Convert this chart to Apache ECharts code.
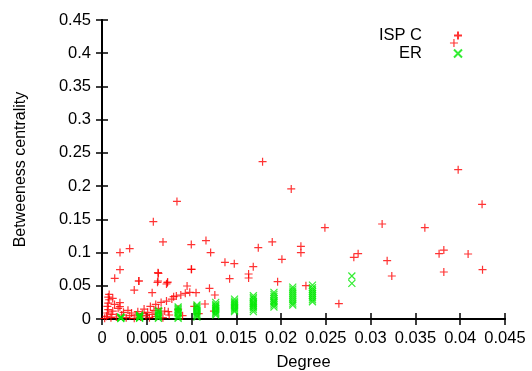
<!DOCTYPE html>
<html>
<head>
<meta charset="utf-8">
<script src="https://cdn.jsdelivr.net/npm/echarts@6/dist/echarts.min.js"></script>
<style>
  html, body { margin: 0; padding: 0; background: #fff; }
  #chart { width: 532px; height: 371px; }
</style>
</head>
<body>
<div id="chart"></div>
<script>
// Axis settings
const xTickStep = 0.005, xMax = 0.045;
const yTickStep = 0.05, yMax = 0.45;
const seriesNames = ['ISP C', 'ER'];

// ISP C: [degree, betweenness centrality]
const ispPoints = [
  [0.0003,0.001],[0.0005,0.004],[0.0006,0.009],[0.0007,0.014],[0.0006,0.019],[0.0007,0.024],
  [0.0008,0.029],[0.0007,0.033],[0.0008,0.037],[0.0010,0.002],[0.0011,0.007],[0.0012,0.012],
  [0.0012,0.031],[0.0014,0.022],[0.0016,0.003],[0.0018,0.016],[0.0020,0.0245],[0.0020,0.0185],
  [0.0022,0.006],[0.0024,0.010],[0.0027,0.002],[0.0029,0.013],[0.0031,0.005],[0.0033,0.009],
  [0.0036,0.0436],[0.0036,0.001],[0.0038,0.006],[0.0040,0.011],[0.0041,0.0572],[0.0043,0.003],
  [0.0045,0.008],[0.0047,0.015],[0.0049,0.005],[0.0051,0.010],[0.0053,0.002],[0.0054,0.019],
  [0.0056,0.0396],[0.0056,0.007],[0.0058,0.013],[0.0060,0.022],[0.0060,0.004],[0.0062,0.0552],
  [0.0063,0.0687],[0.0063,0.016],[0.0065,0.009],[0.0066,0.025],[0.0068,0.002],[0.0070,0.012],
  [0.0072,0.0527],[0.0073,0.0547],[0.0072,0.027],[0.0074,0.011],[0.0075,0.006],[0.0078,0.030],
  [0.0080,0.0336],[0.0083,0.0346],[0.0085,0.015],[0.0088,0.0361],[0.0090,0.005],[0.0093,0.0387],
  [0.0095,0.0497],[0.0098,0.0402],[0.0100,0.0748],[0.0103,0.019],[0.0105,0.0396],[0.0108,0.008],
  [0.0115,0.0226],[0.0120,0.0462],[0.0126,0.0361],[0.0125,0.012],
  [0.00837,0.177],[0.00573,0.1465],[0.00681,0.116],[0.00309,0.106],[0.00201,0.100],[0.00997,0.112],
  [0.01161,0.118],[0.01213,0.100],[0.01373,0.0853],[0.01477,0.0832],[0.00201,0.0742],[0.00142,0.0612],
  [0.00413,0.0572],[0.00625,0.0697],[0.00625,0.0572],[0.00733,0.0557],[0.00997,0.0748],[0.01425,0.0607],
  [0.01793,0.2368],[0.02113,0.1957],[0.02489,0.1374],[0.01745,0.1073],[0.01901,0.116],[0.02221,0.1094],
  [0.02221,0.0998],[0.02009,0.0898],[0.01689,0.0787],[0.01637,0.0677],[0.01637,0.0617],[0.01961,0.0562],
  [0.02277,0.0502],[0.02645,0.0231],[0.02812,0.0928],[0.0286,0.0983],[0.03977,0.2247],[0.04244,0.1726],
  [0.03128,0.143],[0.03605,0.1374],[0.03184,0.0878],[0.03236,0.0647],[0.03764,0.0983],[0.03817,0.1038],
  [0.04088,0.0978],[0.03817,0.0707],[0.04249,0.0742],[0.0393,0.4154]
];

// ER: degree columns and the betweenness values found in each
const erDegree = [0.0021, 0.0042, 0.0063, 0.0085, 0.0106, 0.0127, 0.0148, 0.0169, 0.0192, 0.0213, 0.0235, 0.0279];
const erBetweenness = [
  [0.0005,0.0015,0.0025,0.003],
  [0.001,0.002,0.003,0.004,0.005,0.006],
  [0.001,0.003,0.005,0.007,0.009,0.011,0.013],
  [0.001,0.003,0.005,0.008,0.010,0.012,0.014,0.016,0.018],
  [0.003,0.005,0.007,0.009,0.011,0.013,0.015,0.017,0.019,0.021],
  [0.006,0.008,0.010,0.012,0.014,0.016,0.018,0.020,0.022,0.025],
  [0.011,0.013,0.015,0.017,0.019,0.021,0.023,0.025,0.027,0.030],
  [0.011,0.014,0.017,0.019,0.021,0.023,0.025,0.027,0.030,0.032,0.035],
  [0.018,0.021,0.024,0.026,0.028,0.031,0.034,0.037,0.040],
  [0.021,0.024,0.027,0.030,0.033,0.036,0.039,0.042,0.045,0.048],
  [0.026,0.029,0.032,0.035,0.038,0.041,0.044,0.047,0.051],
  [0.0537,0.0647]
];

const erPoints = [];
erDegree.forEach((d, i) => erBetweenness[i].forEach(b => erPoints.push([d, b])));

const FONT = '"Liberation Sans", Arial, sans-serif';
const PLUS = 'path://M0,5L10,5M5,0L5,10';
const CROSS = 'path://M0,0L10,10M10,0L0,10';
const RED = '#ff0000', GREEN = '#00e800';

const frameLine = { show: true, lineStyle: { color: '#000', width: 2 } };
const tickIn = { show: true, inside: true, length: 6, lineStyle: { color: '#000', width: 1.5 } };
const labelFont = { fontFamily: FONT, fontSize: 16.5, color: '#000' };

const chart = echarts.init(document.getElementById('chart'), null, { renderer: 'canvas' });
chart.setOption({
  animation: false,
  backgroundColor: '#fff',
  grid: { left: 102, right: 27, top: 20, bottom: 52, outerBoundsMode: 'none', containLabel: false },
  legend: [
    {
      data: [seriesNames[0]], right: 69, top: 27, padding: 0, align: 'right',
      itemWidth: 8, itemHeight: 8, selectedMode: false,
      textStyle: Object.assign({ padding: [0, 27, 0, 0] }, labelFont)
    },
    {
      data: [seriesNames[1]], right: 69, top: 45, padding: 0, align: 'right',
      itemWidth: 8, itemHeight: 8, selectedMode: false,
      textStyle: Object.assign({ padding: [0, 27, 0, 0] }, labelFont)
    }
  ],
  xAxis: [
    {
      type: 'value', min: 0, max: xMax, interval: xTickStep,
      name: 'Degree', nameLocation: 'middle', nameGap: 35,
      nameTextStyle: labelFont,
      axisLine: frameLine, axisTick: tickIn, splitLine: { show: false },
      axisLabel: Object.assign({ margin: 11 }, labelFont)
    },
    {
      type: 'value', position: 'top', min: 0, max: xMax, interval: xTickStep,
      axisLine: frameLine, axisTick: tickIn, splitLine: { show: false },
      axisLabel: { show: false }
    }
  ],
  yAxis: [
    {
      type: 'value', min: 0, max: yMax, interval: yTickStep,
      name: 'Betweeness centrality', nameLocation: 'middle', nameGap: 73,
      nameTextStyle: { fontFamily: FONT, fontSize: 16, color: '#000' },
      axisLine: frameLine, axisTick: tickIn, splitLine: { show: false },
      axisLabel: Object.assign({ margin: 11 }, labelFont)
    },
    {
      type: 'value', position: 'right', min: 0, max: yMax, interval: yTickStep,
      axisLine: frameLine, axisTick: tickIn, splitLine: { show: false },
      axisLabel: { show: false }
    }
  ],
  series: [
    {
      name: seriesNames[0], type: 'scatter', data: ispPoints,
      symbol: PLUS, symbolSize: 8,
      itemStyle: { color: RED, borderColor: RED, borderWidth: 1.2 }
    },
    {
      name: seriesNames[1], type: 'scatter', data: erPoints,
      symbol: CROSS, symbolSize: 7,
      itemStyle: { color: GREEN, borderColor: GREEN, borderWidth: 1.2 }
    }
  ]
});
</script>
</body>
</html>
